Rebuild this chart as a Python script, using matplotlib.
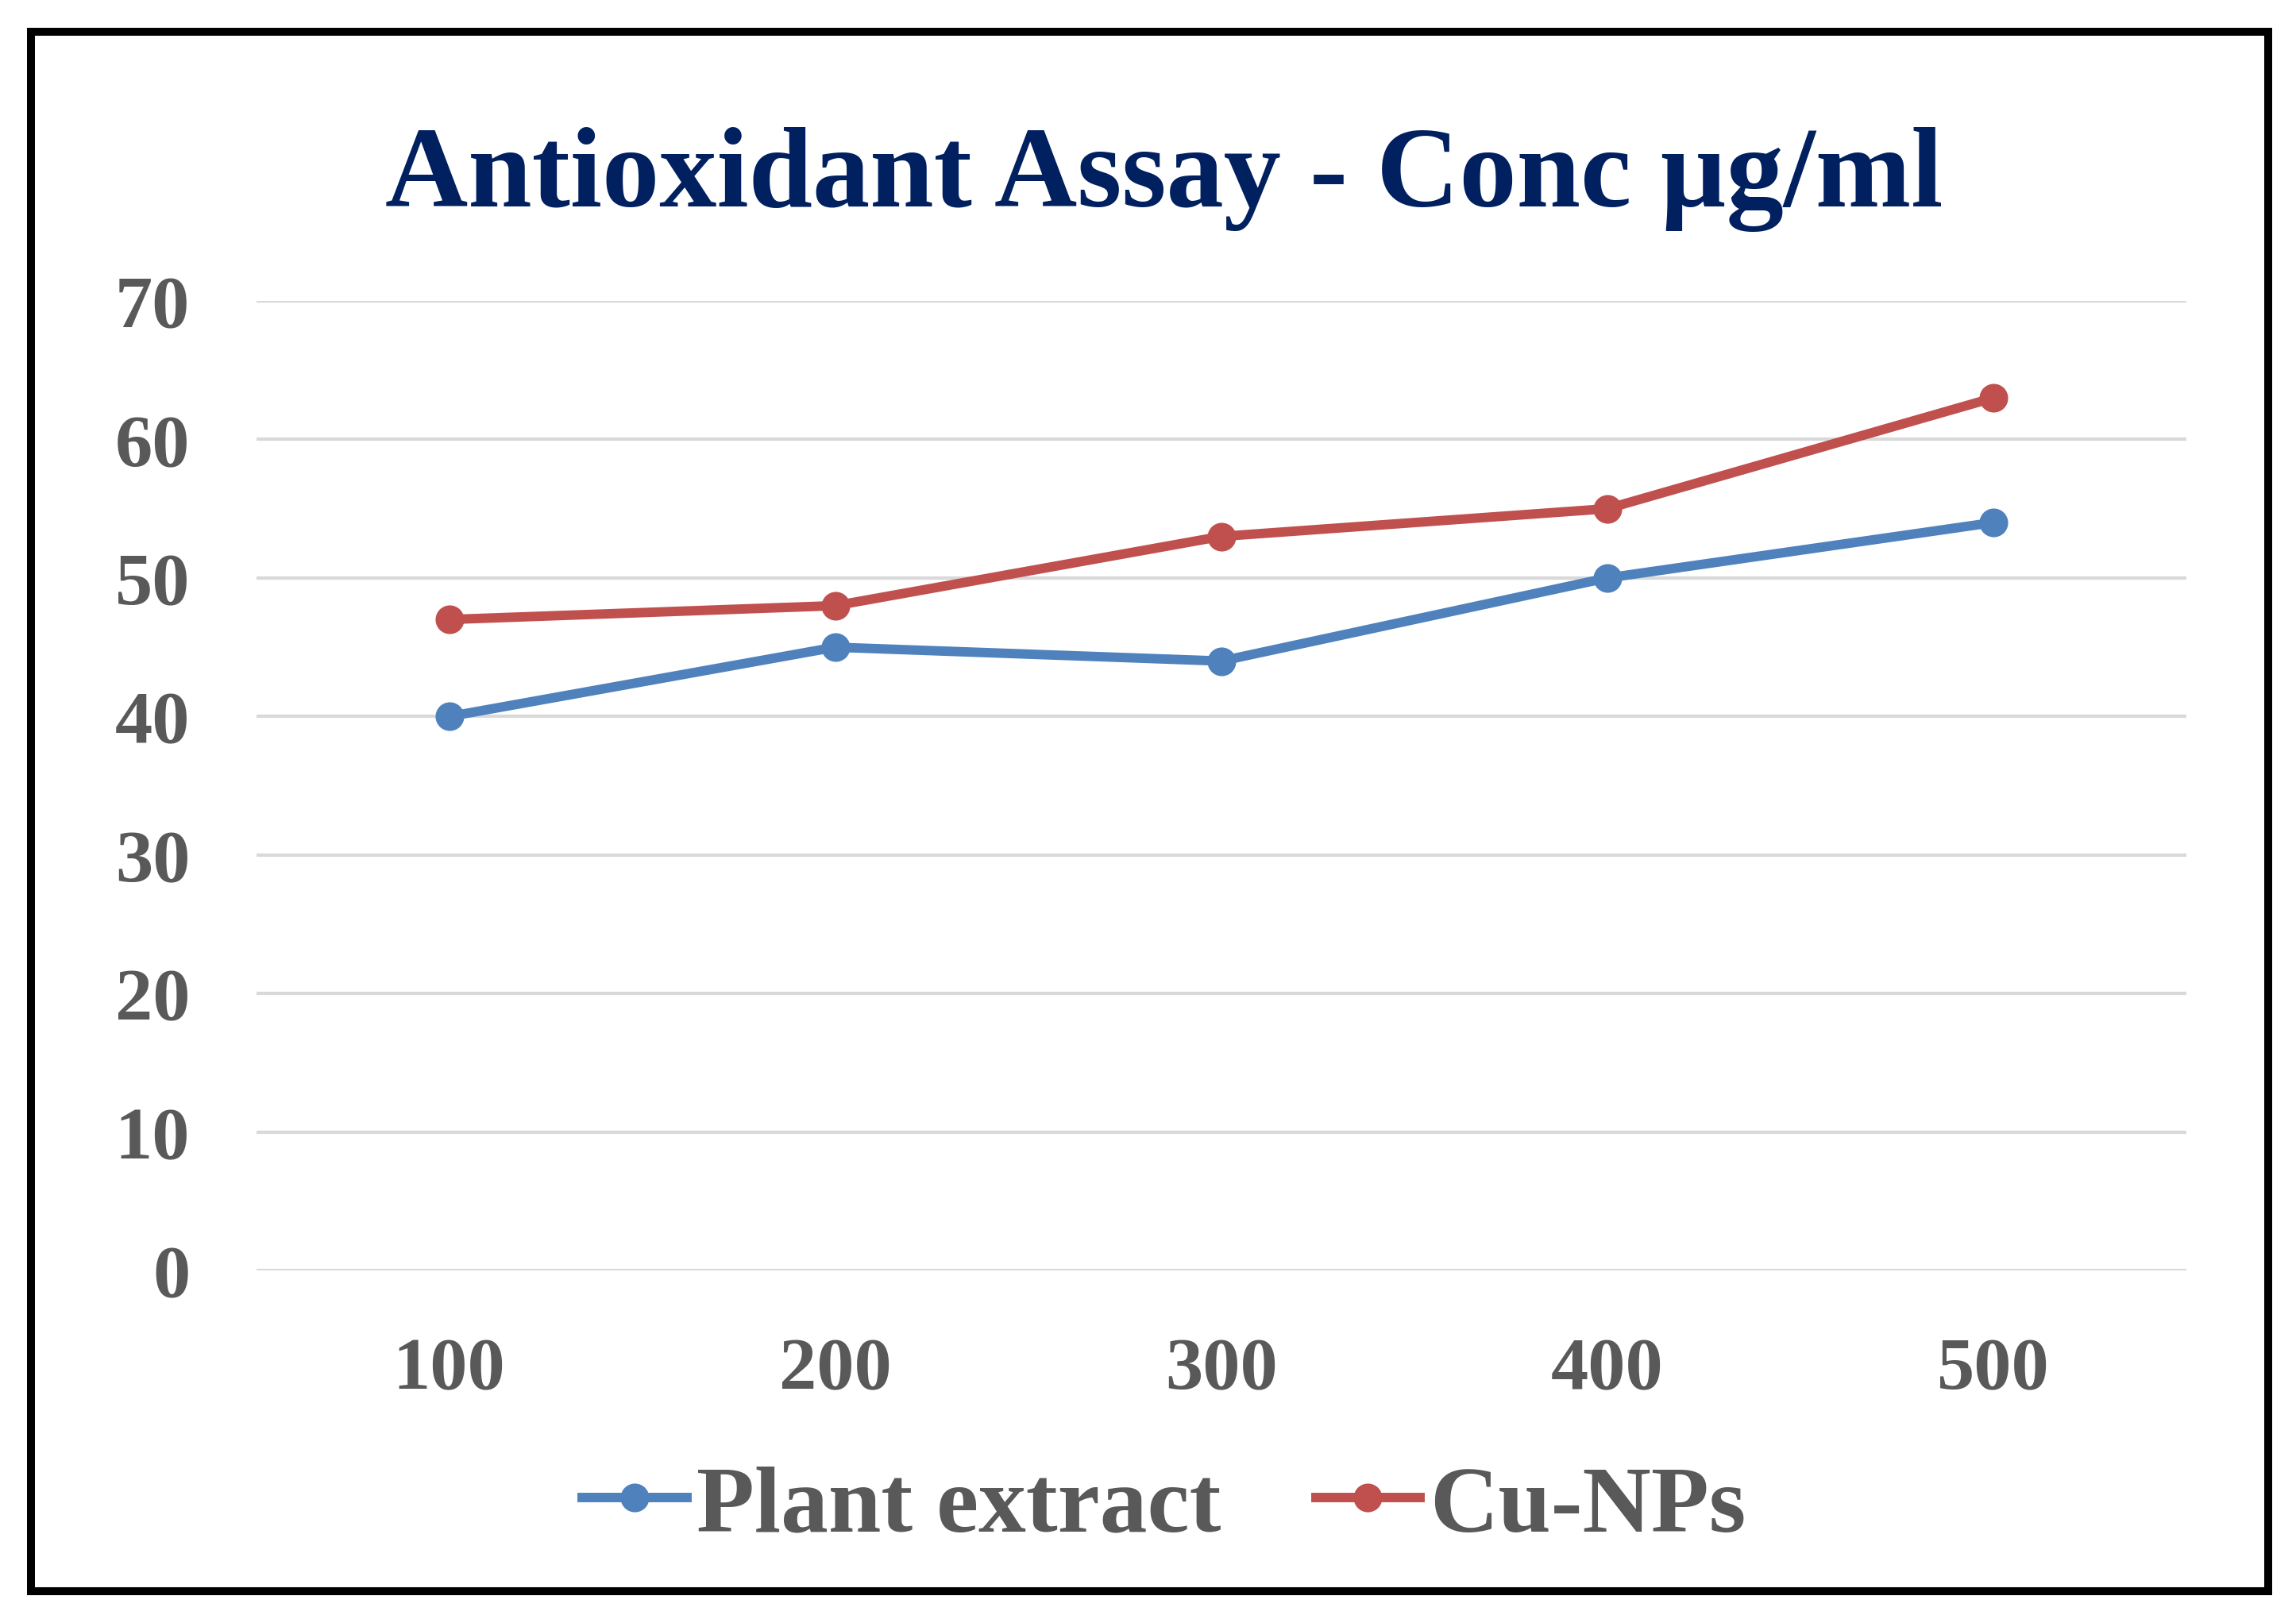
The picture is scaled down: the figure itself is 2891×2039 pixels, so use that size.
import matplotlib
matplotlib.use("Agg")
import matplotlib.pyplot as plt
from matplotlib.patches import Rectangle

# data
concentrations = ["100", "200", "300", "400", "500"]
plant_extract = [40, 45, 44, 50, 54]
cu_nps = [47, 48, 53, 55, 63]
y_ticks = [0, 10, 20, 30, 40, 50, 60, 70]

serif = ["Liberation Serif", "DejaVu Serif"]
gray = "#595959"

fig = plt.figure(figsize=(14.455, 10.2), dpi=200)
ax = fig.add_axes([0.1116, 0.2152, 0.8406, 0.5985])

x = range(len(concentrations))
ax.plot(x, plant_extract, color="#4F81BD", lw=4.3, marker="o", ms=12,
        label="Plant extract", zorder=3)
ax.plot(x, cu_nps, color="#C0504D", lw=4.3, marker="o", ms=12,
        label="Cu-NPs", zorder=3)

ax.set_xlim(-0.5, len(concentrations) - 0.5)
ax.set_ylim(0, 70)
ax.set_yticks(y_ticks)
ax.set_xticks(list(x))
ax.set_xticklabels(concentrations)
ax.yaxis.grid(True, color="#D9D9D9", lw=1.5)
ax.set_axisbelow(True)
for s in ax.spines.values():
    s.set_visible(False)
ax.tick_params(axis="both", length=0, labelcolor=gray, labelsize=34)
ax.tick_params(axis="y", pad=30)
ax.tick_params(axis="x", pad=30)
for lab in ax.get_xticklabels() + ax.get_yticklabels():
    lab.set_family(serif)
    lab.set_fontweight("bold")

fig.text(0.507, 0.889, "Antioxidant Assay - Conc µg/ml", ha="center", va="center",
         family=serif, fontweight="bold", fontsize=52, color="#002060")

leg = fig.legend(loc="center", bbox_to_anchor=(0.507, 0.069), ncol=2, frameon=False,
                 handlelength=1.1, handletextpad=0.1, columnspacing=1.0,
                 prop={"family": serif, "weight": "bold", "size": 43})
for t in leg.get_texts():
    t.set_color(gray)

fig.patches.append(Rectangle((0.0135, 0.017), 0.9745, 0.963, transform=fig.transFigure,
                             fill=False, edgecolor="black", lw=3.6))

fig.savefig("out.png", dpi=200, facecolor="white")
